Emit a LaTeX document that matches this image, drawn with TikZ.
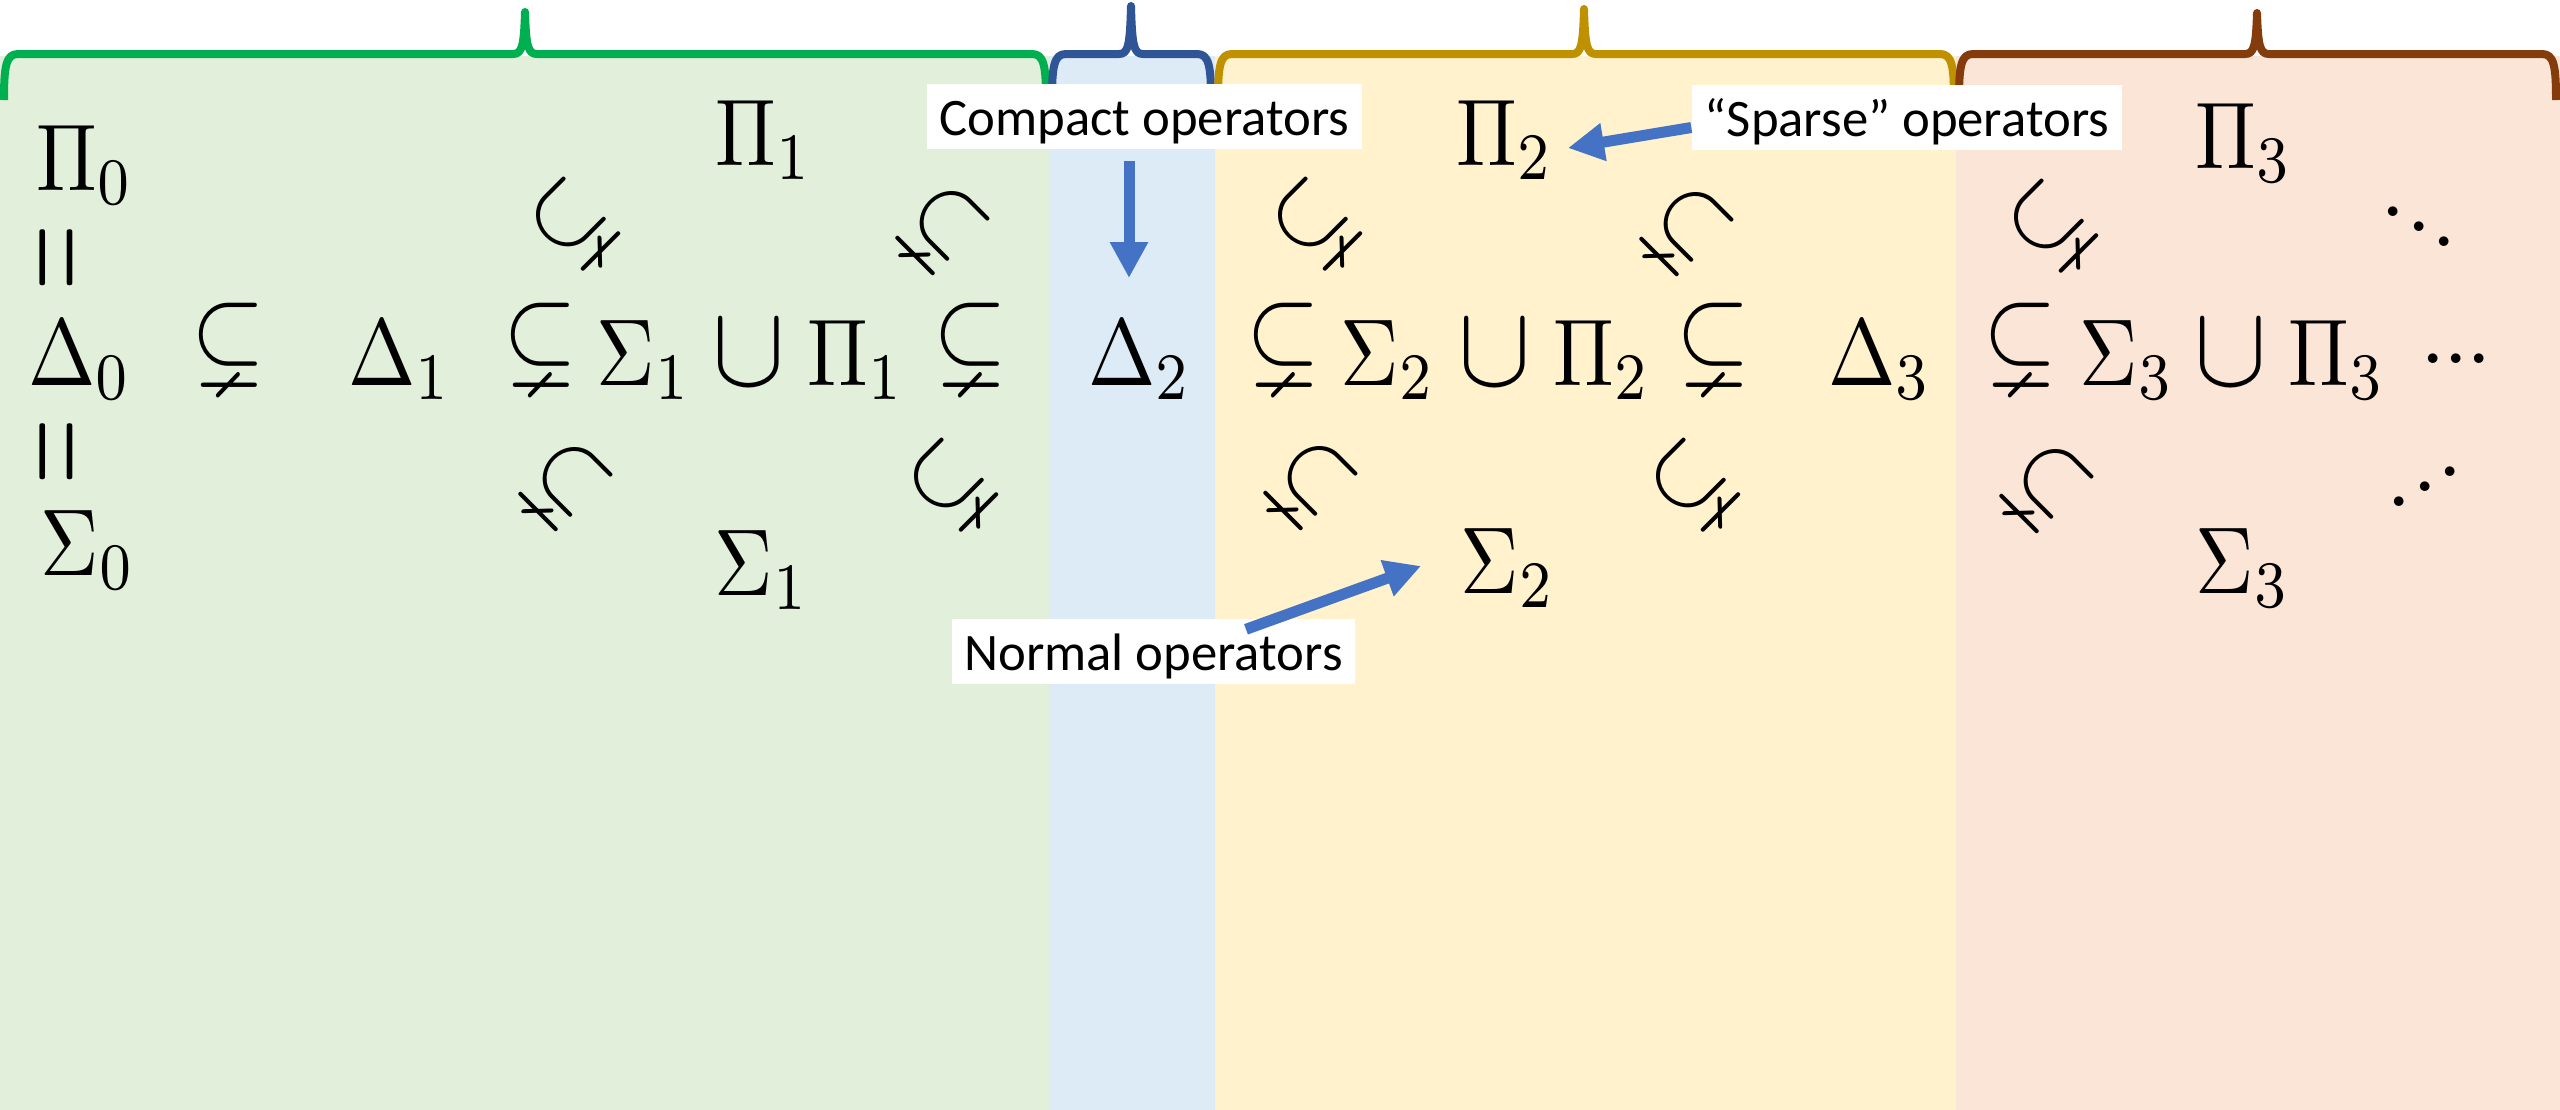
\documentclass[tikz,border=0pt]{standalone}
\usepackage{amsmath,amssymb}
\usepackage{fontspec}
\usepackage{graphicx}
\newfontfamily\labfont{Carlito}
\usetikzlibrary{arrows.meta}
\definecolor{gfill}{HTML}{E2EFDA}
\definecolor{bfill}{HTML}{DDEBF7}
\definecolor{yfill}{HTML}{FFF2CC}
\definecolor{pfill}{HTML}{FBE5D6}
\definecolor{gline}{HTML}{00B050}
\definecolor{bline}{HTML}{2F5597}
\definecolor{yline}{HTML}{BF9000}
\definecolor{pline}{HTML}{843C0C}
\definecolor{arrowblue}{HTML}{4472C4}
\newcommand{\mthx}[1]{\scalebox{2.3}[2.7]{$#1$}}
\newcommand{\snex}{\scalebox{2.7}[3.1]{$\subsetneq$}}
\newcommand{\rsnex}{\raisebox{1.3mm}{\snex}}
\newcommand{\dsnex}{\scalebox{2.6}[3.0]{$\subsetneq$}}
\newcommand{\ucupx}{\scalebox{3.1}[3.3]{$\cup$}}
\newcommand{\vequalx}{\rotatebox{90}{\scalebox{2.4}[4.0]{$=$}}}
\newcommand{\hdotsx}{\scalebox{2.6}{\raisebox{2.4pt}{.\kern-0.25pt.\kern-0.25pt.}}}
\newcommand{\ddotsx}{\scalebox{2.6}{\raisebox{3.3pt}{.}\raisebox{1.65pt}{.}.}}
\newcommand{\udotsx}{\scalebox{2.6}{.\raisebox{1.65pt}{.}\raisebox{3.3pt}{.}}}
\newcommand{\bandbrace}[5]{%
  \draw[#1, bracestroke] (#2,100) .. controls (#2,66) and (#2+2,54) .. (#2+14,54)
    -- (#3-12,54) .. controls (#3-3,54) and (#3-1,46) .. (#3,#5)
    .. controls (#3+1,46) and (#3+3,54) .. (#3+12,54)
    -- (#4-14,54) .. controls (#4-2,54) and (#4,66) .. (#4,100);}
\begin{document}
\begin{tikzpicture}[x=0.1mm, y=-0.1mm,
  mathitem/.style={inner sep=0pt, anchor=base},
  rotsym/.style={inner sep=0pt, anchor=center},
  labelbox/.style={fill=white, font=\labfont\fontsize{15}{18}\selectfont, inner sep=0pt,
    minimum height=6.5mm, text height=3.7mm, text depth=0mm, anchor=center},
  callout/.style={draw=arrowblue, line width=1.1mm, -{Triangle[length=3.6mm,width=3.6mm]}},
  bracestroke/.style={line width=0.8mm, line join=round}]
\useasboundingbox (0,0) rectangle (2560,1110);
\fill[white] (0,0) rectangle (2560,1110);
% background bands
\fill[gfill] (0,56) rectangle (1049,1110);
\fill[bfill] (1049,56) rectangle (1215,1110);
\fill[yfill] (1215,56) rectangle (1956,1110);
\fill[pfill] (1956,56) rectangle (2560,1110);
% braces
\bandbrace{gline}{4}{525}{1046}{12}
\bandbrace{bline}{1052}{1131}{1211}{6}
\bandbrace{yline}{1218}{1584}{1954}{9}
\bandbrace{pline}{1959}{2257}{2556}{13}
% row 1
\node[mathitem] (p0) at (85,190) {\mthx{\Pi_0}};
\node[mathitem] (p1t) at (764,165) {\mthx{\Pi_1}};
\node[mathitem] (p2t) at (1505,165) {\mthx{\Pi_2}};
\node[mathitem] (p3t) at (2244,168) {\mthx{\Pi_3}};
% equalities
\node[rotsym] (eq1) at (66,258) {\vequalx};
\node[rotsym] (eq2) at (66,452) {\vequalx};
% row 3
\node[mathitem] (d0) at (80,385) {\mthx{\Delta_0}};
\node[mathitem] (s01) at (228,385) {\rsnex};
\node[mathitem] (d1) at (400,385) {\mthx{\Delta_1}};
\node[mathitem] (s1a) at (540,385) {\rsnex};
\node[mathitem] (sg1) at (644,385) {\mthx{\Sigma_1}};
\node[mathitem] (u1) at (749,385) {\ucupx};
\node[mathitem] (p1m) at (856,385) {\mthx{\Pi_1}};
\node[mathitem] (s1b) at (970,385) {\rsnex};
\node[mathitem] (d2) at (1140,385) {\mthx{\Delta_2}};
\node[mathitem] (s2a) at (1283,385) {\rsnex};
\node[mathitem] (sg2) at (1388,385) {\mthx{\Sigma_2}};
\node[mathitem] (u2) at (1495,385) {\ucupx};
\node[mathitem] (p2m) at (1602,385) {\mthx{\Pi_2}};
\node[mathitem] (s2b) at (1713,385) {\rsnex};
\node[mathitem] (d3) at (1880,385) {\mthx{\Delta_3}};
\node[mathitem] (s3a) at (2020,385) {\rsnex};
\node[mathitem] (sg3) at (2127,385) {\mthx{\Sigma_3}};
\node[mathitem] (u3) at (2231,385) {\ucupx};
\node[mathitem] (p3m) at (2337,385) {\mthx{\Pi_3}};
\node[mathitem] (cd) at (2456,385) {\hdotsx};
% row 5
\node[mathitem] (sg0) at (88,575) {\mthx{\Sigma_0}};
\node[mathitem] (sg1b) at (762,595) {\mthx{\Sigma_1}};
\node[mathitem] (sg2b) at (1508,593) {\mthx{\Sigma_2}};
\node[mathitem] (sg3b) at (2243,593) {\mthx{\Sigma_3}};
% diagonal inclusions
\node[rotsym, rotate=45]  (r1) at (573,225) {\dsnex};
\node[rotsym, rotate=-45] (r2) at (942,228) {\dsnex};
\node[rotsym, rotate=-45] (r3) at (565,484) {\dsnex};
\node[rotsym, rotate=45]  (r4) at (951,486) {\dsnex};
\node[rotsym, rotate=45]  (r5) at (1315,225) {\dsnex};
\node[rotsym, rotate=-45] (r6) at (1686,229) {\dsnex};
\node[rotsym, rotate=-45] (r7) at (1310,483) {\dsnex};
\node[rotsym, rotate=45]  (r8) at (1693,486) {\dsnex};
\node[rotsym, rotate=45]  (r9) at (2051,227) {\dsnex};
\node[rotsym, rotate=-45] (r10) at (2046,486) {\dsnex};
\node[rotsym] (dd) at (2419,227) {\ddotsx};
\node[rotsym] (ud) at (2425,487) {\udotsx};
% labels
\node[labelbox, minimum width=43.5mm] (compact) at (1144.5,116.5) {Compact operators};
\node[labelbox, minimum width=43mm] (sparse) at (1907,117.5) {“Sparse” operators};
\node[labelbox, minimum width=40.3mm] (normal) at (1153.5,651.5) {Normal operators};
\coordinate (ctip) at (1129,278);
\coordinate (stip) at (1568,148);
\coordinate (ntip) at (1421,566);
\draw[callout, shorten <=1.1mm] (compact.south -| ctip) -- (ctip);
\draw[callout] ([yshift=-1mm]sparse.west) -- (stip);
\draw[callout] ([xshift=9.25mm,yshift=-1.1mm]normal.north) -- (ntip);
\end{tikzpicture}
\end{document}
